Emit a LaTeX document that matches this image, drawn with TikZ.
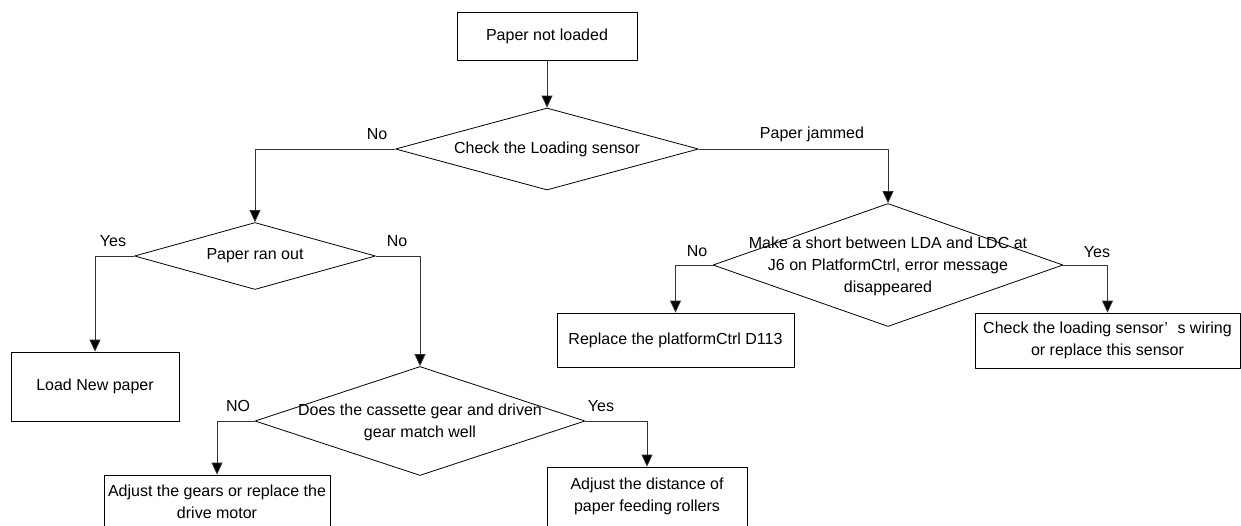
\documentclass[tikz,border=0pt]{standalone}
\usepackage{fontspec}
\setmainfont{Liberation Sans}
\usetikzlibrary{shapes.geometric,arrows.meta}
\begin{document}
\begin{tikzpicture}[x=1pt,y=-1pt,>={Triangle[length=12pt,width=11pt,fill=black]},line join=round,
	font=\fontsize{16}{22}\selectfont,
	box/.style={draw,rectangle,line width=0.8pt,inner sep=0pt,align=center},
	decision/.style={draw,diamond,line width=0.8pt,inner sep=0pt},
	txt/.style={align=center,inner sep=0pt},
	flow/.style={->,line width=0.8pt,draw=black!80}]
	\useasboundingbox (0,0) rectangle (1241,525);
	% boxes
	\node[box,minimum width=180pt,minimum height=48pt] (start) at (547,36) {Paper not loaded};
	\node[box,minimum width=168pt,minimum height=69pt] (load) at (95,386.5) {Load New paper};
	\node[box,minimum width=237pt,minimum height=54pt] (board) at (675.5,340) {Replace the platformCtrl D113};
	\node[box,minimum width=265pt,minimum height=55pt] (wiring) at (1107.5,340.5)
		{Check the loading sensor’\hspace{0.6em}s wiring\\or replace this sensor};
	\node[box,minimum width=226pt,minimum height=54pt] (motor) at (217,502)
		{Adjust the gears or replace the\\drive motor};
	\node[box,minimum width=200pt,minimum height=59pt] (rollers) at (647,496.5)
		{Adjust the distance of\\paper feeding rollers};
	% decisions
	\node[decision,minimum width=303pt,minimum height=82pt] (check) at (547,149) {};
	\node[decision,minimum width=241pt,minimum height=67pt] (runout) at (255,256) {};
	\node[decision,minimum width=330pt,minimum height=109pt] (gear) at (420,421) {};
	\node[decision,minimum width=350pt,minimum height=123pt] (short) at (888,265) {};
	\node[txt] (checktxt) at (check) {Check the Loading sensor};
	\node[txt] (runouttxt) at (runout) {Paper ran out};
	\node[txt] (geartxt) at (420,422) {Does the cassette gear and driven\\gear match well};
	\node[txt] (shorttxt) at (888,266) {Make a short between LDA and LDC at\\J6 on PlatformCtrl, error message\\disappeared};
	% connectors
	\draw[flow] (start) -- (check);
	\draw[flow] (check.west) -| (runout.north);
	\draw[flow] (check.east) -| (short.north);
	\draw[flow] (runout.west) -| (load.north);
	\draw[flow] (runout.east) -| (gear.north);
	\draw[flow] (gear.west) -| (motor.north);
	\draw[flow] (gear.east) -| (rollers.north);
	\draw[flow] (short.west) -| (board.north);
	\draw[flow] (short.east) -| (wiring.north);
	% branch labels
	\foreach \t/\x/\y [count=\i] in {No/377/134,Paper jammed/812/134,Yes/113/241,No/397/241,
		NO/238/406,Yes/601/406,No/697/251,Yes/1097/252}
	\node[txt] (lbl\i) at (\x,\y) {\t};
\end{tikzpicture}
\end{document}
